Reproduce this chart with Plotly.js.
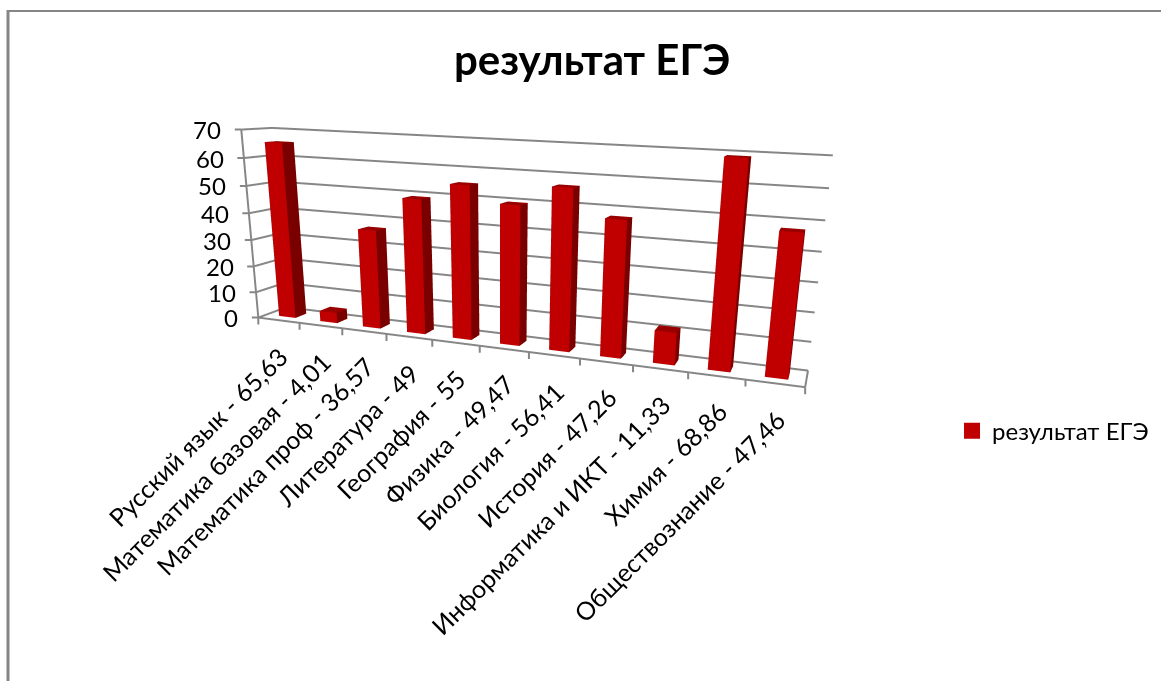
<!DOCTYPE html>
<html><head><meta charset="utf-8"><script src="https://cdn.plot.ly/plotly-3.0.1.min.js"></script>
<style>body{margin:0;background:#fff}</style></head><body>
<div id="c" style="width:1161px;height:681px"></div>
<script>
const categories=["Русский язык","Математика базовая","Математика проф","Литература","География","Физика","Биология","История","Информатика и ИКТ","Химия","Обществознание"];
const valueLabels=["65,63","4,01","36,57","49","55","49,47","56,41","47,26","11,33","68,86","47,46"];
const values=[65.63,4.01,36.57,49,55,49.47,56.41,47.26,11.33,68.86,47.46];
const zticks=[0,10,20,30,40,50,60,70];
const seriesName="результат ЕГЭ";
const W=1161,H=681;
const barHalfWidth=.2,barFront=.3,barBack=.7;
const X=[],Y=[],Z=[],I=[],J=[],K=[],FC=[];
const faceColors=["#C00000","#7A0000","#990000","#7A0000","#7A0000","#7A0000"];
values.forEach((v,b)=>{const x0=b-barHalfWidth,x1=b+barHalfWidth,y0=barFront,y1=barBack,o=X.length;
[[x0,y0,0],[x1,y0,0],[x1,y1,0],[x0,y1,0],[x0,y0,v],[x1,y0,v],[x1,y1,v],[x0,y1,v]].forEach(q=>{X.push(q[0]);Y.push(q[1]);Z.push(q[2])});
[[0,1,5,0],[0,5,4,0],[1,2,6,1],[1,6,5,1],[4,5,6,2],[4,6,7,2],[2,3,7,3],[2,7,6,3],[3,0,4,4],[3,4,7,4],[0,2,1,5],[0,3,2,5]].forEach(t=>{I.push(o+t[0]);J.push(o+t[1]);K.push(o+t[2]);FC.push(faceColors[t[3]])})});
const font="Lato, 'Noto Sans', sans-serif";
const G='#868686';
const anns=[];
categories.forEach((c,i)=>anns.push({x:i,y:0,z:0,text:c+" - "+valueLabels[i],showarrow:false,textangle:-45,xanchor:'right',yanchor:'top',yshift:-18,xshift:18,font:{family:font,size:25,color:'#000'}}));
zticks.forEach(t=>anns.push({x:-.5,y:0,z:t,text:String(t),showarrow:false,xanchor:'right',yanchor:'middle',xshift:-18,font:{family:font,size:24,color:'#000'}}));
zticks.forEach(t=>anns.push({x:-.5,y:0,z:t,text:' ',showarrow:true,arrowhead:0,arrowwidth:2,arrowcolor:G,ax:-8,ay:0,standoff:0,font:{size:1}}));
categories.concat(['']).forEach((c,i)=>anns.push({x:i-.5,y:0,z:0,text:' ',showarrow:true,arrowhead:0,arrowwidth:2,arrowcolor:G,ax:0,ay:9,standoff:0,font:{size:1}}));
const data=[{type:'mesh3d',x:X,y:Y,z:Z,i:I,j:J,k:K,facecolor:FC,flatshading:true,showlegend:false,hoverinfo:'skip',lighting:{ambient:1,diffuse:0,specular:0,fresnel:0,roughness:1}},
{type:'scatter3d',mode:'markers',x:[null],y:[null],z:[null],name:seriesName,showlegend:true,marker:{symbol:'square',size:16,color:'#C00000'}}];
const ax=o=>Object.assign({title:{text:''},showbackground:false,showspikes:false,showticklabels:false,zeroline:false,showgrid:false,showline:true,linecolor:G,linewidth:4,ticks:'',tickvals:[]},o);
const layout={width:W,height:H,margin:{l:0,r:0,t:0,b:0},paper_bgcolor:'#fff',showlegend:true,hovermode:false,
title:{text:'<b>'+seriesName+'</b>',x:.51,xanchor:'center',y:.912,yanchor:'middle',font:{family:font,size:42,color:'#000'}},
legend:{x:.82,y:.367,xanchor:'left',yanchor:'middle',font:{family:font,size:24,color:'#000'},bgcolor:'rgba(0,0,0,0)'},
shapes:[{type:'line',xref:'paper',yref:'paper',x0:8/W,x1:8/W,y0:0,y1:1-10/H,line:{color:G,width:3}},{type:'line',xref:'paper',yref:'paper',x0:7/W,x1:1,y0:1-11/H,y1:1-11/H,line:{color:G,width:2}}],
scene:{dragmode:'orbit',domain:{x:[0,1],y:[0,1]},aspectmode:'manual',aspectratio:{x:2.1204,y:.1771,z:.7281},
camera:{eye:{x:1.1067,y:-2.7165,z:.5473},center:{x:.1808,y:.2593,z:-.4094},up:{x:-.0272,y:-.0061,z:1},projection:{type:'perspective'}},
xaxis:ax({range:[-.5,10.5]}),
yaxis:ax({range:[0,1]}),
zaxis:ax({range:[0,70],tickvals:zticks,showgrid:true,gridcolor:G,gridwidth:4}),
annotations:anns}};
Plotly.newPlot('c',data,layout,{displayModeBar:false});
</script></body></html>
